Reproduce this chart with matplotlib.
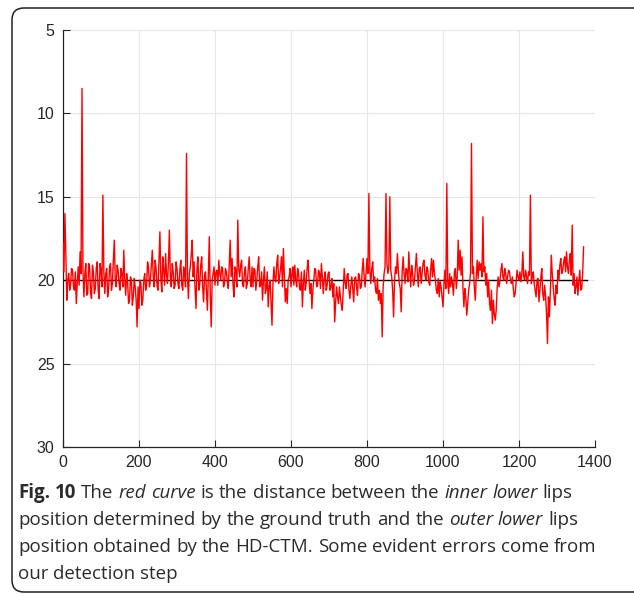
import numpy as np
import matplotlib.pyplot as plt
from matplotlib.patches import FancyBboxPatch
from matplotlib.transforms import IdentityTransform

# distance (pixels) every 5 frames ...
frames = np.arange(0, 1375, 5)
distance = [
    17.8, 16.0, 21.2, 19.6, 20.3, 19.4, 20.6, 21.4, 19.2, 18.3,
    8.5, 21.0, 19.0, 20.8, 19.2, 21.1, 19.5, 20.5, 18.9, 21.1,
    19.4, 14.9, 20.8, 19.3, 20.5, 19.0, 20.2, 17.6, 20.4, 19.4,
    20.6, 19.6, 18.2, 20.9, 20.1, 21.2, 20.0, 21.0, 20.4, 22.8,
    21.7, 20.2, 21.2, 19.6, 20.3, 19.2, 20.0, 18.2, 20.4, 19.3,
    20.6, 17.1, 20.7, 19.4, 18.4, 20.2, 17.0, 20.4, 19.5, 20.3,
    19.3, 20.5, 18.8, 20.6, 19.6, 12.4, 21.1, 19.2, 17.6, 18.9,
    21.7, 18.6, 20.2, 18.6, 21.3, 19.5, 21.8, 17.4, 22.8, 19.6,
    20.3, 19.4, 18.8, 20.0, 19.3, 20.2, 19.5, 20.5, 17.6, 18.7,
    21.0, 19.4, 16.4, 19.8, 18.8, 20.4, 19.2, 20.2, 18.6, 20.4,
    20.4, 19.4, 20.0, 18.6, 20.3, 21.2, 19.2, 20.5, 21.6, 20.0,
    22.7, 19.2, 20.1, 18.5, 19.8, 18.6, 18.1, 21.3, 21.4, 19.8,
    20.4, 19.2, 19.1, 20.4, 19.6, 20.6, 21.6, 19.4, 20.2, 18.8,
    20.8, 21.7, 20.0, 19.4, 20.3, 19.6, 19.0, 20.8, 19.5, 20.3,
    19.5, 20.4, 21.0, 22.5, 20.4, 21.4, 21.0, 21.8, 19.3, 20.5,
    19.6, 21.1, 19.8, 21.3, 19.8, 20.9, 19.7, 20.4, 18.7, 20.4,
    18.7, 14.8, 20.2, 18.9, 19.8, 20.8, 21.2, 21.4, 23.4, 19.6,
    14.8, 19.6, 15.0, 19.8, 22.2, 19.2, 18.4, 20.2, 21.9, 18.6,
    20.2, 19.4, 18.3, 20.4, 19.6, 20.0, 18.4, 20.4, 19.2, 19.6,
    18.8, 20.0, 19.4, 20.3, 18.7, 18.8, 20.0, 20.8, 21.0, 20.4,
    21.6, 19.4, 14.2, 20.8, 20.4, 20.2, 19.5, 20.5, 17.6, 18.2,
    18.6, 21.6, 21.0, 21.4, 20.2, 11.8, 19.2, 21.2, 18.8, 18.9,
    19.0, 16.2, 19.2, 19.6, 20.0, 21.8, 22.6, 22.0, 21.8, 19.8,
    20.0, 19.0, 20.0, 19.6, 19.8, 19.5, 20.2, 20.5, 20.8, 19.4,
    20.0, 20.1, 18.3, 20.0, 19.8, 19.5, 14.9, 19.8, 20.2, 21.0,
    19.9, 20.6, 19.3, 21.2, 21.0, 23.8, 22.2, 18.5, 20.4, 21.5,
    20.8, 20.0, 18.7, 19.4, 18.6, 18.3, 19.6, 18.4, 16.7, 19.6,
    20.4, 20.9, 19.4, 20.5, 18.0,
]
# ... and the frames half way between them
frames_mid = np.arange(2.5, 1370, 5)
distance_mid = [
    19.5, 18.4, 20.0, 20.6, 19.3, 20.4, 19.5, 20.2, 20.3, 19.6,
    19.4, 19.6, 20.9, 19.0, 20.7, 19.1, 20.8, 19.3, 20.6, 19.0,
    20.4, 19.5, 19.6, 21.0, 19.2, 20.6, 18.8, 20.0, 19.1, 20.2,
    19.3, 20.4, 20.0, 19.6, 21.4, 19.8, 21.5, 19.9, 21.2, 20.4,
    20.0, 21.5, 20.0, 20.6, 18.9, 20.4, 19.1, 19.8, 18.8, 20.3,
    18.9, 19.9, 18.6, 20.3, 19.7, 18.9, 19.8, 19.0, 20.5, 18.9,
    20.2, 19.4, 20.3, 19.2, 20.4, 19.8, 19.6, 18.5, 19.8, 20.5,
    19.3, 20.6, 19.1, 20.4, 19.7, 20.7, 19.6, 20.8, 20.0, 19.2,
    19.5, 20.3, 19.6, 19.2, 20.4, 19.3, 20.1, 19.0, 19.8, 20.3,
    19.2, 20.4, 19.3, 19.1, 20.3, 19.5, 20.5, 19.3, 20.0, 19.2,
    19.3, 20.6, 19.2, 20.4, 19.5, 20.0, 20.8, 19.5, 20.4, 21.3,
    20.2, 19.9, 19.0, 20.2, 19.3, 20.4, 19.7, 20.5, 20.0, 19.3,
    19.6, 20.3, 20.0, 19.3, 20.5, 19.5, 20.2, 20.6, 19.3, 20.0,
    20.2, 20.6, 19.3, 20.4, 19.4, 20.5, 19.8, 19.9, 20.6, 19.6,
    20.6, 19.9, 20.2, 21.3, 21.0, 20.4, 21.5, 20.5, 20.2, 19.7,
    20.6, 20.3, 20.5, 19.9, 20.4, 19.6, 20.5, 19.4, 19.8, 19.5,
    19.6, 19.4, 19.3, 20.1, 20.6, 19.9, 20.6, 20.8, 20.4, 19.2,
    19.0, 19.2, 19.4, 20.6, 20.0, 19.6, 19.4, 20.5, 19.5, 19.6,
    19.3, 20.1, 19.5, 19.1, 20.3, 19.2, 19.6, 19.3, 20.2, 19.0,
    19.7, 19.2, 20.1, 19.4, 19.8, 19.6, 20.6, 19.9, 20.1, 21.0,
    20.3, 20.5, 20.1, 19.6, 19.8, 20.9, 19.3, 19.8, 19.4, 19.7,
    20.4, 20.5, 22.1, 20.6, 19.5, 19.6, 20.4, 19.8, 19.9, 19.4,
    19.8, 19.5, 20.3, 21.0, 21.4, 20.6, 21.2, 22.4, 20.5, 20.4,
    19.4, 19.8, 19.3, 20.2, 19.4, 20.0, 19.8, 21.0, 20.1, 19.8,
    19.5, 19.6, 19.8, 19.4, 20.2, 19.7, 20.2, 19.5, 20.6, 20.0,
    21.3, 19.8, 20.8, 20.3, 22.0, 21.0, 20.7, 19.6, 21.1, 20.3,
    19.4, 19.1, 19.6, 18.9, 19.5, 19.2, 18.8, 19.7, 20.3, 20.8,
    19.8, 20.1, 20.6, 19.6,
]
reference_level = 20
reference_span = [0, 1378]

xticks = [0, 200, 400, 600, 800, 1000, 1200, 1400]
yticks = [5, 10, 15, 20, 25, 30]

caption = [
    [("Fig. 10", "bold"), ("The", "normal"), ("red curve", "italic"),
     ("is the distance between the", "normal"), ("inner lower", "italic"),
     ("lips", "normal")],
    [("position determined by the ground truth and the", "normal"),
     ("outer lower", "italic"), ("lips", "normal")],
    [("position obtained by the HD-CTM. Some evident errors come from", "normal")],
    [("our detection step", "normal")],
]

# merge both samplings in frame order
x_all = np.concatenate([frames, frames_mid])
y_all = np.concatenate([distance, distance_mid])
order = np.argsort(x_all)
x_all, y_all = x_all[order], y_all[order]

W, H = 634, 594
fig = plt.figure(figsize=(W / 100, H / 100), dpi=100)
ax = fig.add_axes([63 / W, 1 - 447 / H, (595 - 63) / W, (447 - 30) / H])

ax.plot(reference_span, [reference_level, reference_level], color="black", lw=1.0, zorder=2)
ax.plot(x_all, y_all, color="#ff0000", lw=1.0, zorder=3)

ax.set_xlim(0, 1400)
ax.set_ylim(30, 5)
ax.set_xticks(xticks)
ax.set_yticks(yticks)
ax.grid(True, color="#e6e6e6", lw=0.8, zorder=0)
ax.set_axisbelow(True)
for side in ["top", "right"]:
    ax.spines[side].set_visible(False)
for side in ["left", "bottom"]:
    ax.spines[side].set_color("#262626")
    ax.spines[side].set_linewidth(0.9)
ax.tick_params(direction="in", length=5, width=0.8, color="#262626",
               labelsize=11.5, labelcolor="#262626", pad=6)
for lab in ax.get_xticklabels() + ax.get_yticklabels():
    lab.set_family("Liberation Sans")

# caption, laid out word by word so that styles can change inside a line
renderer = fig.canvas.get_renderer()
fs = 13.5
family = "Open Sans"


def text_width(s, weight="normal", style="normal"):
    t = fig.text(0, 0, s, fontsize=fs, family=family, weight=weight, style=style)
    w = t.get_window_extent(renderer).width
    t.remove()
    return w


space = text_width("x x") - text_width("xx")
baselines = [498, 525, 552, 579]
for line, yb in zip(caption, baselines):
    x = 18
    for s, kind in line:
        weight = "bold" if kind == "bold" else "normal"
        style = "italic" if kind == "italic" else "normal"
        for word in s.split(" "):
            fig.text(x, H - yb, word, fontsize=fs, family=family, weight=weight,
                     style=style, color="#2b2b2b", transform=IdentityTransform(),
                     va="baseline")
            x += text_width(word, weight, style) + space

frame = FancyBboxPatch((12, 2), 660, 584, boxstyle="round,pad=0,rounding_size=12",
                       transform=IdentityTransform(), fill=False, ec="#231f20", lw=1.1)
fig.patches.append(frame)

fig.savefig("out.png", dpi=100)
